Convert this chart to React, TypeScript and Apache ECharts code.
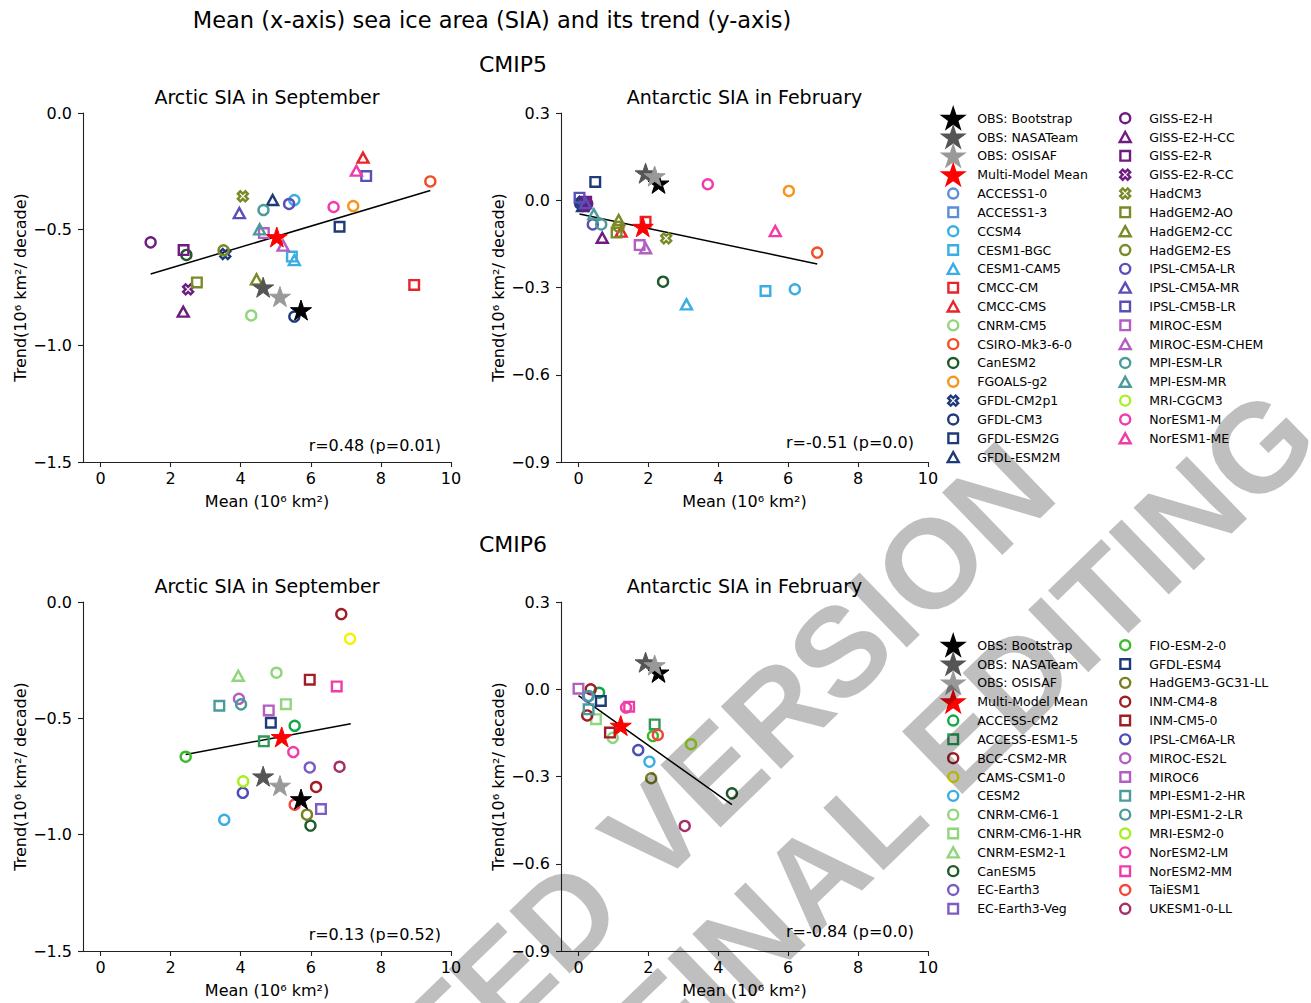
import React, { useEffect, useRef } from 'react';
import * as echarts from 'echarts';

const FONT = 'DejaVu Sans';

// ---------------- CMIP5 ensemble ----------------
const cmip5Models = [
  'ACCESS1-0', 'ACCESS1-3', 'CCSM4', 'CESM1-BGC', 'CESM1-CAM5', 'CMCC-CM', 'CMCC-CMS', 'CNRM-CM5',
  'CSIRO-Mk3-6-0', 'CanESM2', 'FGOALS-g2', 'GFDL-CM2p1', 'GFDL-CM3', 'GFDL-ESM2G', 'GFDL-ESM2M',
  'GISS-E2-H', 'GISS-E2-H-CC', 'GISS-E2-R', 'GISS-E2-R-CC', 'HadCM3', 'HadGEM2-AO', 'HadGEM2-CC',
  'HadGEM2-ES', 'IPSL-CM5A-LR', 'IPSL-CM5A-MR', 'IPSL-CM5B-LR', 'MIROC-ESM', 'MIROC-ESM-CHEM',
  'MPI-ESM-LR', 'MPI-ESM-MR', 'MRI-CGCM3', 'NorESM1-M', 'NorESM1-ME',
];
const cmip5Markers = [
  'o', 's', 'o', 's', '^', 's', '^', 'o', 'o', 'o', 'o', 'X', 'o', 's', '^',
  'o', '^', 's', 'X', 'X', 's', '^', 'o', 'o', '^', 's', 's', '^', 'o', '^', 'o', 'o', '^',
];
const cmip5Colors = [
  '#5b8ed6', '#5b8ed6', '#3aaee2', '#3aaee2', '#3aaee2', '#e8232a', '#e8232a', '#8fd67c',
  '#f04e23', '#1f5a2a', '#f7941d', '#1f3a7a', '#1f3a7a', '#1f3a7a', '#1f3a7a',
  '#6e1c80', '#6e1c80', '#6e1c80', '#6e1c80', '#7a8a26', '#7a8a26', '#7a8a26', '#7a8a26',
  '#5a4fb8', '#5a4fb8', '#5a4fb8', '#b35fc1', '#b35fc1', '#4a9b9c', '#4a9b9c', '#a8f01f',
  '#f03ca9', '#f03ca9',
];
const cmip5ArcticMean = [
  null, null, 5.53, 5.46, 5.53, 8.95, 7.49, 4.30, 9.41, 2.45, 7.21, 3.56, 5.53, 6.82, 4.91,
  1.43, 2.36, 2.37, 2.50, 4.06, 2.75, 4.45, 3.51, 5.38, 3.96, 7.58, 4.66, 5.21, 4.65, 4.54, null, 6.65, 7.30,
];
const cmip5ArcticTrend = [
  null, null, -0.374, -0.617, -0.632, -0.739, -0.192, -0.870, -0.294, -0.610, -0.400, -0.606, -0.875, -0.489, -0.374,
  -0.556, -0.854, -0.589, -0.758, -0.358, -0.728, -0.715, -0.590, -0.391, -0.430, -0.271, -0.516, -0.570, -0.417, -0.500, null, -0.404, -0.248,
];
const cmip5AntarcticMean = [
  null, null, 6.19, 5.35, 3.09, 1.92, 1.22, null, 6.83, 2.42, 6.02, 0.10, 0.05, 0.48, 0.12,
  0.25, 0.68, 0.22, 0.20, 2.51, 1.09, 1.15, 1.15, 0.41, 0.20, 0.03, 1.75, 1.92, 0.65, 0.44, null, 3.70, 5.63,
];
const cmip5AntarcticTrend = [
  null, null, -0.306, -0.312, -0.358, -0.074, -0.108, null, -0.180, -0.280, 0.032, -0.005, -0.012, 0.063, -0.020,
  -0.012, -0.129, -0.005, -0.020, -0.131, -0.111, -0.068, -0.091, -0.083, -0.010, 0.009, -0.154, -0.165, -0.083, -0.048, null, 0.055, -0.106,
];

// ---------------- CMIP6 ensemble ----------------
const cmip6Models = [
  'ACCESS-CM2', 'ACCESS-ESM1-5', 'BCC-CSM2-MR', 'CAMS-CSM1-0', 'CESM2', 'CNRM-CM6-1', 'CNRM-CM6-1-HR',
  'CNRM-ESM2-1', 'CanESM5', 'EC-Earth3', 'EC-Earth3-Veg',
  'FIO-ESM-2-0', 'GFDL-ESM4', 'HadGEM3-GC31-LL', 'INM-CM4-8', 'INM-CM5-0', 'IPSL-CM6A-LR', 'MIROC-ES2L',
  'MIROC6', 'MPI-ESM1-2-HR', 'MPI-ESM1-2-LR', 'MRI-ESM2-0', 'NorESM2-LM', 'NorESM2-MM', 'TaiESM1', 'UKESM1-0-LL',
];
const cmip6Markers = [
  'o', 's', 'o', 'o', 'o', 'o', 's', '^', 'o', 'o', 's',
  'o', 's', 'o', 'o', 's', 'o', 'o', 's', 's', 'o', 'o', 'o', 's', 'o', 'o',
];
const cmip6Colors = [
  '#12a84a', '#2e9a58', '#a11d25', '#f5f200', '#3aaee2', '#8fd67c', '#8fd67c', '#8fd67c', '#1f5a2a',
  '#7b5cc4', '#7b5cc4',
  '#3cba2c', '#1f3a7a', '#7a7e1e', '#a11d25', '#a11d25', '#4d4db5', '#b35fc1', '#b35fc1', '#4a9b9c',
  '#4a9b9c', '#a8f01f', '#f03ca9', '#f03ca9', '#f2453d', '#a3306b',
];
const cmip6ArcticMean = [
  5.54, 4.66, 6.15, 7.12, 3.53, 5.02, 5.29, 3.93, 5.99, 5.97, 6.29,
  2.43, 4.86, 5.89, 6.87, 5.97, 4.06, 3.95, 4.80, 3.39, 4.01, 4.07, 5.50, 6.74, 5.54, 6.82,
];
const cmip6ArcticTrend = [
  -0.532, -0.599, -0.795, -0.158, -0.936, -0.304, -0.439, -0.317, -0.961, -0.711, -0.890,
  -0.665, -0.519, -0.914, -0.052, -0.334, -0.820, -0.416, -0.466, -0.446, -0.440, -0.771, -0.645, -0.363, -0.871, -0.708,
];
const cmip6AntarcticMean = [
  0.59, 2.18, 0.35, null, 2.03, 0.98, 0.50, null, 4.39, 0.27, null,
  2.13, 0.64, 2.08, 0.25, 0.90, 1.71, null, 0.00, 0.29, 0.29, 3.22, 1.36, 1.45, 2.27, 3.04,
];
const cmip6AntarcticTrend = [
  -0.012, -0.121, 0.000, null, -0.249, -0.167, -0.103, null, -0.358, -0.025, null,
  -0.161, -0.040, -0.306, -0.090, -0.149, -0.209, null, 0.002, -0.069, -0.023, -0.189, -0.063, -0.060, -0.157, -0.470,
];

// ---------------- observations and ensemble means ----------------
const obsNames = ['OBS: Bootstrap', 'OBS: NASATeam', 'OBS: OSISAF'];
const obsColors = ['#000000', '#555555', '#999999'];
const obsArcticMean = [5.72, 4.64, 5.12];
const obsArcticTrend = [-0.847, -0.749, -0.789];
const obsAntarcticMean = [2.29, 1.92, 2.18];
const obsAntarcticTrend = [0.058, 0.093, 0.083];

const mmmName = 'Multi-Model Mean';
const mmmColor = '#ff0000';
// panel order: CMIP5 Arctic, CMIP5 Antarctic, CMIP6 Arctic, CMIP6 Antarctic
const mmmMean = [5.03, 1.84, 5.17, 1.21];
const mmmTrend = [-0.533, -0.091, -0.580, -0.125];

// least-squares fit lines across the models of each panel
const fitMeanStart = [1.43, 0.03, 2.43, 0.0];
const fitMeanEnd = [9.41, 6.83, 7.14, 4.39];
const fitTrendStart = [-0.692, -0.047, -0.655, -0.022];
const fitTrendEnd = [-0.333, -0.219, -0.523, -0.397];
const correlationLabels = ['r=0.48 (p=0.01)', 'r=-0.51 (p=0.0)', 'r=0.13 (p=0.52)', 'r=-0.84 (p=0.0)'];

const panelTitles = ['Arctic SIA in September', 'Antarctic SIA in February', 'Arctic SIA in September', 'Antarctic SIA in February'];
const meanTicks = [0, 2, 4, 6, 8, 10];
const meanMin = -0.5;
const meanMax = 10;
const arcticTrendRange = [-1.5, 0.0, 0.5];
const antarcticTrendRange = [-0.9, 0.3, 0.3];

// ---------------- marker geometry ----------------
const EDGE = 2.4;

function polyPath(pts: number[][]) {
  return 'M' + pts.map((p) => p[0].toFixed(3) + ' ' + p[1].toFixed(3)).join('L') + 'Z';
}
function starPoints(cx: number, cy: number, R: number, r: number) {
  const pts: number[][] = [];
  for (let k = 0; k < 10; k++) {
    const a = -Math.PI / 2 + (k * Math.PI) / 5;
    const rad = k % 2 === 0 ? R : r;
    pts.push([cx + rad * Math.cos(a), cy + rad * Math.sin(a)]);
  }
  return pts;
}
const PLUS = [[-1, -3], [-1, -1], [-3, -1], [-3, 1], [-1, 1], [-1, 3], [1, 3], [1, 1], [3, 1], [3, -1], [1, -1], [1, -3]];
function crossPoints(cx: number, cy: number, s: number) {
  return PLUS.map(([px, py]) => {
    const x = px / 6, y = py / 6;
    return [cx + ((x - y) / Math.SQRT2) * s, cy + ((x + y) / Math.SQRT2) * s];
  });
}
const starSymbol = 'path://' + polyPath(starPoints(0, 0, 1, 0.382));
const crossSymbol = 'path://' + polyPath(crossPoints(0, 0, 1));

const SYMBOL: Record<string, string> = { o: 'circle', s: 'rect', '^': 'triangle', X: crossSymbol };
const SIZE: Record<string, any> = { o: 10, s: 9.6, '^': [11, 10], X: 10 };

// legend icons live in a 30x22 box, the marker centred at (11, 11)
const PAD = 'M0 0M30 22';
function legendIcon(marker: string) {
  if (marker === '*') return 'path://' + PAD + polyPath(starPoints(11, 12, 10.4, 10.4 * 0.382));
  if (marker === 'o') return 'path://' + PAD + 'M6 11A5 5 0 1 1 16 11A5 5 0 1 1 6 11Z';
  if (marker === 's') return 'path://' + PAD + 'M6.2 6.2L15.8 6.2L15.8 15.8L6.2 15.8Z';
  if (marker === '^') return 'path://' + PAD + 'M11 6L16.5 16L5.5 16Z';
  return 'path://' + PAD + polyPath(crossPoints(11, 11, 10.6));
}
function legendItem(name: string, marker: string, color: string) {
  const filled = marker === '*';
  return {
    name,
    icon: legendIcon(marker),
    itemStyle: filled
      ? { color, borderColor: color, borderWidth: EDGE, opacity: 1 }
      : { color: 'rgba(0,0,0,0)', borderColor: color, borderWidth: EDGE, opacity: 1 },
  };
}

function fmtTrend(v: number) {
  const s = Math.abs(v) < 1e-9 ? '0.0' : v.toFixed(1);
  return s.replace('-', '\u2212');
}

function buildOption() {
  const grids = [
    { left: 83, top: 113, width: 368, height: 349 },
    { left: 561, top: 113, width: 367, height: 349 },
    { left: 83, top: 602, width: 368, height: 349 },
    { left: 561, top: 602, width: 367, height: 349 },
  ];
  const axisColor = '#222';
  const panels = [
    { models: cmip5Models, colors: cmip5Colors, markers: cmip5Markers, mean: cmip5ArcticMean, trend: cmip5ArcticTrend, oMean: obsArcticMean, oTrend: obsArcticTrend, yr: arcticTrendRange },
    { models: cmip5Models, colors: cmip5Colors, markers: cmip5Markers, mean: cmip5AntarcticMean, trend: cmip5AntarcticTrend, oMean: obsAntarcticMean, oTrend: obsAntarcticTrend, yr: antarcticTrendRange },
    { models: cmip6Models, colors: cmip6Colors, markers: cmip6Markers, mean: cmip6ArcticMean, trend: cmip6ArcticTrend, oMean: obsArcticMean, oTrend: obsArcticTrend, yr: arcticTrendRange },
    { models: cmip6Models, colors: cmip6Colors, markers: cmip6Markers, mean: cmip6AntarcticMean, trend: cmip6AntarcticTrend, oMean: obsAntarcticMean, oTrend: obsAntarcticTrend, yr: antarcticTrendRange },
  ];

  const xAxis = grids.map((_, i) => ({
    type: 'value',
    gridIndex: i,
    min: meanMin,
    max: meanMax,
    name: 'Mean (10\u2076 km\u00b2)',
    nameLocation: 'middle',
    nameGap: 31,
    nameTextStyle: { fontFamily: FONT, fontSize: 16, color: '#000' },
    axisLine: { show: true, onZero: false, lineStyle: { color: axisColor, width: 1.1 } },
    axisTick: { show: true, length: 5, customValues: meanTicks, lineStyle: { color: axisColor, width: 1.1 } },
    axisLabel: {
      show: true, customValues: meanTicks, margin: 8, fontFamily: FONT, fontSize: 16, color: '#000',
      formatter: (v: number) => String(Math.round(v)),
    },
    splitLine: { show: false },
  }));
  const yAxis = panels.map((p, i) => ({
    type: 'value',
    gridIndex: i,
    min: p.yr[0],
    max: p.yr[1],
    interval: p.yr[2],
    name: 'Trend(10\u2076 km\u00b2/ decade)',
    nameLocation: 'middle',
    nameRotate: 90,
    nameGap: 55,
    nameTextStyle: { fontFamily: FONT, fontSize: 16, color: '#000' },
    axisLine: { show: true, onZero: false, lineStyle: { color: axisColor, width: 1.1 } },
    axisTick: { show: true, length: 5, lineStyle: { color: axisColor, width: 1.1 } },
    axisLabel: { show: true, margin: 11, fontFamily: FONT, fontSize: 16, color: '#000', formatter: fmtTrend },
    splitLine: { show: false },
  }));

  const series: any[] = [];
  panels.forEach((p, i) => {
    series.push({
      type: 'line',
      xAxisIndex: i,
      yAxisIndex: i,
      data: [[fitMeanStart[i], fitTrendStart[i]], [fitMeanEnd[i], fitTrendEnd[i]]],
      symbol: 'none',
      lineStyle: { color: '#000', width: 1.5 },
      silent: true,
      z: 2,
    });
    p.models.forEach((m, k) => {
      const x = p.mean[k];
      const y = p.trend[k];
      const mk = p.markers[k];
      series.push({
        type: 'scatter',
        name: m,
        xAxisIndex: i,
        yAxisIndex: i,
        data: x == null || y == null ? [] : [[x, y]],
        symbol: SYMBOL[mk],
        symbolSize: SIZE[mk],
        itemStyle: { color: 'rgba(0,0,0,0)', borderColor: p.colors[k], borderWidth: EDGE, opacity: 1 },
        emphasis: { disabled: true },
        z: 3,
      });
    });
    obsNames.forEach((o, k) => {
      series.push({
        type: 'scatter',
        name: o,
        xAxisIndex: i,
        yAxisIndex: i,
        data: [[p.oMean[k], p.oTrend[k]]],
        symbol: starSymbol,
        symbolKeepAspect: true,
        symbolSize: 21,
        itemStyle: { color: obsColors[k], borderColor: obsColors[k], borderWidth: 1, opacity: 1 },
        emphasis: { disabled: true },
        z: 4,
      });
    });
    series.push({
      type: 'scatter',
      name: mmmName,
      xAxisIndex: i,
      yAxisIndex: i,
      data: [[mmmMean[i], mmmTrend[i]]],
      symbol: starSymbol,
      symbolKeepAspect: true,
      symbolSize: 21,
      itemStyle: { color: mmmColor, borderColor: mmmColor, borderWidth: 1, opacity: 1 },
      emphasis: { disabled: true },
      z: 4,
    });
  });

  const starItems = [
    ...obsNames.map((o, k) => legendItem(o, '*', obsColors[k])),
    legendItem(mmmName, '*', mmmColor),
  ];
  const cmip5Items = cmip5Models.map((m, k) => legendItem(m, cmip5Markers[k], cmip5Colors[k]));
  const cmip6Items = cmip6Models.map((m, k) => legendItem(m, cmip6Markers[k], cmip6Colors[k]));
  // icon box 22px + stroke gives the row height; rows sit 18.8px apart
  const legendBase = {
    orient: 'vertical',
    itemWidth: 30,
    itemHeight: 22,
    itemGap: 18.83 - (22 + EDGE),
    padding: 0,
    selectedMode: false,
    textStyle: { fontFamily: FONT, fontSize: 12.5, color: '#000' },
  };
  const legend = [
    { ...legendBase, left: 941, top: 106, data: [...starItems, ...cmip5Items.slice(0, 15)] },
    { ...legendBase, left: 1113, top: 106, data: cmip5Items.slice(15) },
    { ...legendBase, left: 941, top: 633, data: [...starItems, ...cmip6Items.slice(0, 11)] },
    { ...legendBase, left: 1113, top: 633, data: cmip6Items.slice(11) },
  ];

  const text = (x: number, y: number, t: string, size: number, align = 'center') => ({
    type: 'text',
    x,
    y,
    silent: true,
    style: {
      text: t, fill: '#000', fontFamily: FONT, fontSize: size,
      align, textAlign: align, verticalAlign: 'middle', textVerticalAlign: 'middle',
    },
  });
  const panelCenters = grids.map((g) => g.left + g.width / 2);
  const graphic: any[] = [
    text(492, 20, 'Mean (x-axis) sea ice area (SIA) and its trend (y-axis)', 22.5),
    text(513, 64, 'CMIP5', 22),
    text(513, 544, 'CMIP6', 22),
    text(panelCenters[0], 97, panelTitles[0], 19),
    text(panelCenters[1], 97, panelTitles[1], 19),
    text(panelCenters[2], 586, panelTitles[2], 19),
    text(panelCenters[3], 586, panelTitles[3], 19),
    text(441, 445, correlationLabels[0], 16, 'right'),
    text(914, 442, correlationLabels[1], 16, 'right'),
    text(441, 934, correlationLabels[2], 16, 'right'),
    text(914, 931, correlationLabels[3], 16, 'right'),
    {
      type: 'text',
      x: 616,
      y: 968,
      rotation: (44 * Math.PI) / 180,
      silent: true,
      z: 100,
      style: {
        text: 'ACCEPTED VERSION\nSUBJECT TO FINAL EDITING',
        fill: 'rgba(0,0,0,0.25)',
        fontFamily: 'Liberation Sans',
        fontWeight: 'bold',
        fontSize: 126,
        lineHeight: 144,
        align: 'center',
        textAlign: 'center',
        verticalAlign: 'middle',
        textVerticalAlign: 'middle',
      },
    },
  ];

  return {
    animation: false,
    backgroundColor: '#ffffff',
    textStyle: { fontFamily: FONT },
    grid: grids.map((g) => ({ ...g, containLabel: false })),
    xAxis,
    yAxis,
    legend,
    series,
    graphic,
  };
}

export default function App() {
  const ref = useRef<HTMLDivElement>(null);
  useEffect(() => {
    document.body.style.margin = '0';
    if (!ref.current) return;
    const chart = echarts.init(ref.current, undefined, { renderer: 'svg' });
    chart.setOption(buildOption() as any);
    return () => chart.dispose();
  }, []);
  return <div ref={ref} style={{ width: 1311, height: 1003 }} />;
}
